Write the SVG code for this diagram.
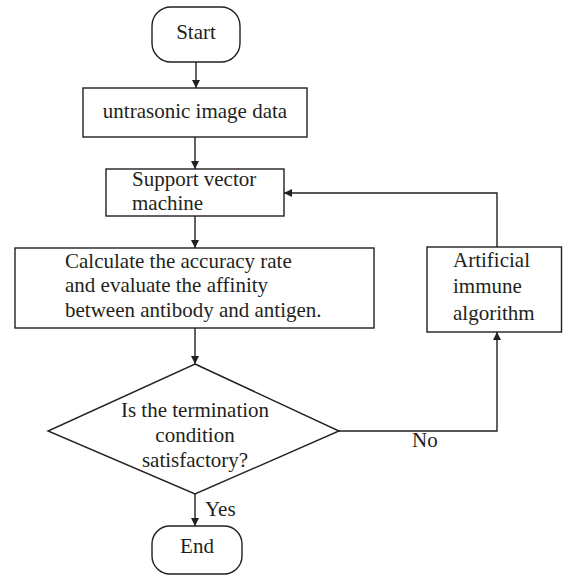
<svg xmlns="http://www.w3.org/2000/svg" width="563" height="576" viewBox="0 0 563 576">
<style>
.s{fill:#fff;stroke:#231f20;stroke-width:1.4}
.c{fill:none;stroke:#231f20;stroke-width:1.4}
text{font-family:"Liberation Serif","Times New Roman",serif;font-size:21px;fill:#231f20}
.m{text-anchor:middle}
</style>
<defs>
<marker id="a" viewBox="0 0 10 10" refX="10" refY="5" markerWidth="8" markerHeight="8" markerUnits="userSpaceOnUse" orient="auto">
<path d="M0,0 L10,5 L0,10 z" fill="#231f20"/>
</marker>
</defs>
<rect width="563" height="576" fill="#fff"/>
<g id="connectors">
<line class="c" x1="196" y1="62" x2="196" y2="88" marker-end="url(#a)"/>
<line class="c" x1="195" y1="137" x2="195" y2="169" marker-end="url(#a)"/>
<line class="c" x1="195" y1="216" x2="195" y2="248" marker-end="url(#a)"/>
<line class="c" x1="195" y1="328" x2="195" y2="364" marker-end="url(#a)"/>
<line class="c" x1="195" y1="494" x2="195" y2="526" marker-end="url(#a)"/>
<polyline class="c" points="339,431 497,431 497,332" marker-end="url(#a)"/>
<polyline class="c" points="497,247 497,193 284,193" marker-end="url(#a)"/>
<text x="205" y="516">Yes</text>
<text x="412" y="447">No</text>
</g>
<g id="start">
<rect class="s" x="152" y="7" width="88" height="55" rx="19"/>
<text class="m" x="196" y="39">Start</text>
</g>
<g id="data">
<rect class="s" x="83" y="88" width="224" height="49"/>
<text class="m" x="195" y="118">untrasonic image data</text>
</g>
<g id="svm">
<rect class="s" x="106" y="169" width="178" height="47"/>
<text x="132" y="186">Support vector</text>
<text x="132" y="210">machine</text>
</g>
<g id="calc">
<rect class="s" x="15" y="248" width="359" height="80"/>
<text x="65" y="268">Calculate the accuracy rate</text>
<text x="65" y="292">and evaluate the affinity</text>
<text x="65" y="317">between antibody and antigen.</text>
</g>
<g id="decision">
<polygon class="s" points="195,364 339,431 195,494 48,431"/>
<text class="m" x="195" y="417">Is the termination</text>
<text class="m" x="195" y="442">condition</text>
<text class="m" x="195" y="467">satisfactory?</text>
</g>
<g id="ais">
<rect class="s" x="427" y="247" width="134.5" height="85"/>
<text x="453" y="267">Artificial</text>
<text x="453" y="293">immune</text>
<text x="453" y="320">algorithm</text>
</g>
<g id="end">
<rect class="s" x="152" y="526" width="90" height="48" rx="18"/>
<text class="m" x="197" y="553">End</text>
</g>
</svg>
